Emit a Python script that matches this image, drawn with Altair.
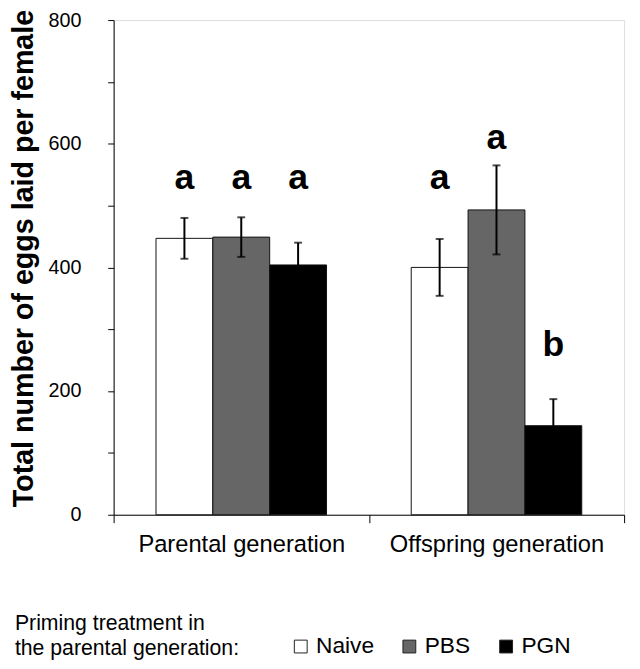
import altair as alt
import pandas as pd

generations = ["Parental generation"] * 3 + ["Offspring generation"] * 3
treatments = ["Naive", "PBS", "PGN"] * 2
means = [447, 449, 404, 400, 493, 144]
errors = [33, 32, 36, 46, 72, 43]
letters = ["a", "a", "a", "a", "a", "b"]
letter_y = [527, 527, 527, 527, 591, 257]

gen_order = ["Parental generation", "Offspring generation"]
trt_order = ["Naive", "PBS", "PGN"]
trt_colors = ["#ffffff", "#666666", "#000000"]
legend_title = ["Priming treatment in", "the parental generation:"]

df = pd.DataFrame({
    "generation": generations,
    "treatment": treatments,
    "mean": means,
    "err": errors,
    "letter": letters,
    "letter_y": letter_y,
})
df["lo"] = df["mean"] - df["err"]
df["hi"] = df["mean"] + df["err"]

FONT = "Liberation Sans"

x = alt.X(
    "generation:N",
    sort=gen_order,
    scale=alt.Scale(paddingInner=0, paddingOuter=0),
    axis=alt.Axis(
        title=None,
        labelAngle=0,
        labelFontSize=24,
        labelColor="#000000",
        labelFont=FONT,
        labelPadding=10,
        labelLimit=400,
        tickSize=8,
        tickBand="extent",
        tickColor="#000000",
        domainColor="#000000",
        tickWidth=1,
        domainWidth=1,
    ),
)
xoff = alt.XOffset(
    "treatment:N",
    sort=trt_order,
    scale=alt.Scale(paddingOuter=0.745, paddingInner=0),
)
yscale = alt.Scale(domain=[0, 800], nice=False)

bars = alt.Chart(df).mark_bar(stroke="#111111", strokeWidth=1).encode(
    x=x,
    xOffset=xoff,
    y=alt.Y(
        "mean:Q",
        scale=yscale,
        axis=alt.Axis(
            title="Total number of eggs laid per female",
            titleFont=FONT,
            titleFontSize=29,
            titleFontWeight="bold",
            titleColor="#000000",
            titlePadding=10,
            titleY=241,
            values=list(range(0, 801, 100)),
            labelExpr="datum.value % 200 == 0 ? datum.label : ''",
            labelFontSize=20,
            labelFont=FONT,
            labelColor="#000000",
            labelPadding=27,
            tickSize=6,
            tickColor="#000000",
            domainColor="#000000",
            grid=False,
        ),
    ),
    fill=alt.Fill(
        "treatment:N",
        sort=trt_order,
        scale=alt.Scale(domain=trt_order, range=trt_colors),
        legend=alt.Legend(
            title=None,
            orient="none",
            legendX=178,
            legendY=623,
            direction="horizontal",
            gridAlign="none",
            symbolType="square",
            symbolSize=169,
            symbolStrokeColor="#222222",
            symbolStrokeWidth=1,
            labelFont=FONT,
            labelFontSize=23,
            labelColor="#000000",
            labelOffset=4,
            columnPadding=24,
            padding=0,
        ),
    ),
)

rules = alt.Chart(df).mark_rule(color="#000000", strokeWidth=2).encode(
    x=x, xOffset=xoff, y=alt.Y("lo:Q", scale=yscale), y2="hi:Q"
)
caps_hi = alt.Chart(df).mark_tick(color="#000000", thickness=2, size=8, orient="horizontal").encode(
    x=x, xOffset=xoff, y=alt.Y("hi:Q", scale=yscale)
)
caps_lo = alt.Chart(df).mark_tick(color="#000000", thickness=2, size=8, orient="horizontal").encode(
    x=x, xOffset=xoff, y=alt.Y("lo:Q", scale=yscale)
)
labels = alt.Chart(df).mark_text(
    font=FONT, fontSize=36, fontWeight="bold", color="#000000", baseline="alphabetic"
).encode(
    x=x, xOffset=xoff, y=alt.Y("letter_y:Q", scale=yscale), text="letter:N"
)

chart = alt.layer(bars, rules, caps_hi, caps_lo, labels).properties(
    width=517,
    height=501,
    autosize=alt.AutoSizeParams(type="none"),
    padding={"left": 107, "top": 8, "right": 8, "bottom": 152},
    title=alt.TitleParams(
        text=legend_title,
        orient="bottom",
        anchor="start",
        frame="group",
        dx=-100,
        offset=-46,
        font=FONT,
        fontSize=21.5,
        fontWeight="normal",
        color="#000000",
        lineHeight=25,
        baseline="top",
    ),
).configure_view(stroke=None).configure(background="#ffffff")

chart.save("out.html", embed_options={"renderer": "svg", "actions": False})
